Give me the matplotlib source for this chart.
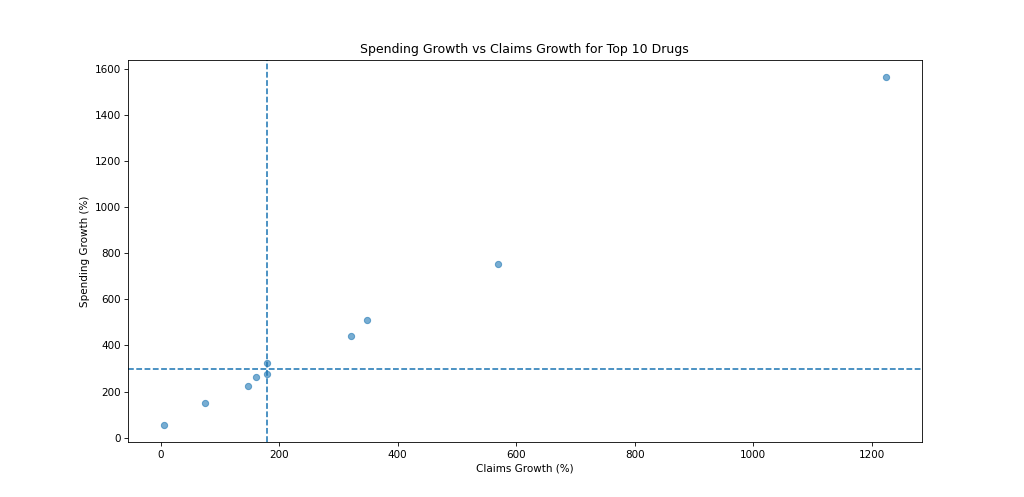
import numpy as np
import matplotlib
matplotlib.use("Agg")
import matplotlib.pyplot as plt

claims_growth = [5.7, 74.4, 148, 160.5, 179.7, 179.7, 321, 349, 568.8, 1223.6]
spending_growth = [55, 150, 223, 265, 277, 322, 443, 510, 755, 1565]

DPI = 75
fig, ax = plt.subplots(figsize=(1024 / DPI, 497 / DPI), dpi=DPI)
ax.scatter(claims_growth, spending_growth, alpha=0.6)
ax.axvline(np.median(claims_growth), linestyle='--')
ax.axhline(np.median(spending_growth), linestyle='--')
ax.set_xlabel('Claims Growth (%)')
ax.set_ylabel('Spending Growth (%)')
ax.set_title('Spending Growth vs Claims Growth for Top 10 Drugs')
fig.savefig('out.png', dpi=DPI)
